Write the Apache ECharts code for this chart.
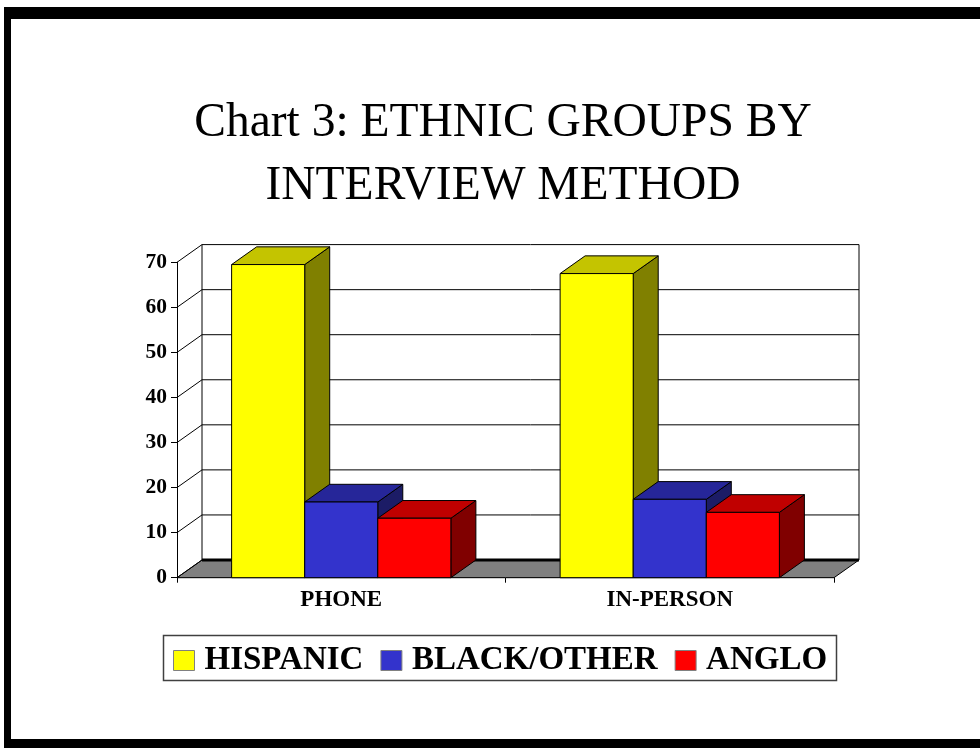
<!DOCTYPE html>
<html><head><meta charset="utf-8">
<script src="https://cdn.jsdelivr.net/npm/echarts@6/dist/echarts.min.js"></script>
<style>html,body{margin:0;padding:0;background:#fff}#c{width:980px;height:748px}</style>
</head><body><div id="c"></div><script>
// ---- data ----
const categories = ['PHONE', 'IN-PERSON'];
const hispanic = [69.5, 67.5];
const blackOther = [16.8, 17.4];
const anglo = [13.2, 14.5];
const yTicks = [0, 10, 20, 30, 40, 50, 60, 70];
const seriesNames = ['HISPANIC', 'BLACK/OTHER', 'ANGLO'];
const titleText = 'Chart 3: ETHNIC GROUPS BY\nINTERVIEW METHOD';

// ---- style ----
const FONT = '"Liberation Serif", "Times New Roman", serif';
const DX = 25, DY = -17.7;        // 3D depth offset (px)
const BAR_FRAC = 0.2225;          // bar width as fraction of band
const shades = [
  {front: '#FFFF00', top: '#C4C400', side: '#808000'},
  {front: '#3333CC', top: '#262699', side: '#1C1C66'},
  {front: '#FF0000', top: '#C00000', side: '#800000'}
];
const seriesValues = [hispanic, blackOther, anglo];

const chart = echarts.init(document.getElementById('c'), null, {renderer: 'canvas'});

function wallRender(params, api) {
  const cs = params.coordSys;
  const L = cs.x, R = cs.x + cs.width;
  const y0 = api.coord([0, yTicks[0]])[1];
  const yTop = api.coord([0, yTicks[yTicks.length - 1]])[1];
  const line = (x1, y1, x2, y2, w) => ({
    type: 'line', shape: {x1, y1, x2, y2},
    style: {stroke: '#000', lineWidth: w || 1}
  });
  const children = [];
  children.push({
    type: 'polygon',
    shape: {points: [[L, y0], [R, y0], [R + DX, y0 + DY], [L + DX, y0 + DY]]},
    style: {fill: '#808080', stroke: '#000', lineWidth: 1}
  });
  yTicks.forEach(v => {
    const y = api.coord([0, v])[1];
    children.push(line(L, y, L + DX, y + DY));
    children.push(line(L + DX, y + DY, R + DX, y + DY, v === yTicks[0] ? 3 : 1));
  });
  children.push(line(L + DX, y0 + DY, L + DX, yTop + DY));
  children.push(line(R + DX, y0 + DY, R + DX, yTop + DY));
  return {type: 'group', children};
}

function barRender(sIdx) {
  return function (params, api) {
    const ci = api.value(0), v = api.value(1);
    const c = api.coord([ci, v]);
    const b = api.coord([ci, 0]);
    const band = api.size([1, 0])[0];
    const bw = band * BAR_FRAC;
    const left = c[0] - 1.5 * bw + sIdx * bw;
    const right = left + bw;
    const yt = c[1], yb = b[1];
    const sh = shades[sIdx];
    const st = (fill) => ({fill, stroke: '#000', lineWidth: 1});
    return {
      type: 'group',
      children: [
        {type: 'polygon', shape: {points: [[right, yt], [right + DX, yt + DY], [right + DX, yb + DY], [right, yb]]}, style: st(sh.side)},
        {type: 'polygon', shape: {points: [[left, yt], [left + DX, yt + DY], [right + DX, yt + DY], [right, yt]]}, style: st(sh.top)},
        {type: 'rect', shape: {x: left, y: yt, width: bw, height: yb - yt}, style: st(sh.front)}
      ]
    };
  };
}

const series = [{
  type: 'custom', name: 'wall', silent: true, z: 1,
  renderItem: wallRender, data: [[0, 0]]
}];
seriesNames.forEach((name, s) => {
  series.push({
    type: 'custom', name, z: 2,
    itemStyle: {color: shades[s].front},
    renderItem: barRender(s),
    data: categories.map((c, i) => [i, seriesValues[s][i]])
  });
});

chart.setOption({
  animation: false,
  backgroundColor: '#fff',
  title: {
    text: titleText, left: 503, top: 92.5, padding: 0, textAlign: 'center',
    textStyle: {fontFamily: FONT, fontSize: 47.5, fontWeight: 'normal', color: '#000', lineHeight: 63}
  },
  grid: {left: 177, top: 262.3, right: 146, bottom: 170.3, containLabel: false},
  xAxis: {
    type: 'category', data: categories,
    axisLine: {show: true, lineStyle: {color: '#000', width: 1}},
    axisTick: {show: true, length: 5, lineStyle: {color: '#000'}},
    axisLabel: {margin: 11, fontFamily: FONT, fontSize: 23, fontWeight: 'bold', color: '#000'},
    splitLine: {show: false}
  },
  yAxis: {
    type: 'value', min: 0, max: 70, interval: 10,
    axisLine: {show: true, lineStyle: {color: '#000', width: 1}},
    axisTick: {show: true, length: 6, lineStyle: {color: '#000'}},
    axisLabel: {margin: 10, fontFamily: FONT, fontSize: 21.5, fontWeight: 'bold', color: '#000'},
    splitLine: {show: false}
  },
  legend: {
    data: seriesNames, left: 173, top: 644, padding: 0,
    icon: 'rect', itemWidth: 21, itemHeight: 20, itemGap: 17,
    itemStyle: {borderColor: '#808080', borderWidth: 1},
    textStyle: {fontFamily: FONT, fontSize: 33, fontWeight: 'bold', color: '#000', padding: [0, 0, 0, 5]},
    selectedMode: false
  },
  graphic: [
    {type: 'rect', z: -1, shape: {x: 4, y: 7, width: 976, height: 12}, style: {fill: '#000'}},
    {type: 'rect', z: -1, shape: {x: 4, y: 7, width: 7, height: 741}, style: {fill: '#000'}},
    {type: 'rect', z: -1, shape: {x: 4, y: 739, width: 976, height: 9}, style: {fill: '#000'}},
    {type: 'rect', z: -1, shape: {x: 163.5, y: 635.5, width: 673, height: 45}, style: {fill: '#fff', stroke: '#404040', lineWidth: 1.5}}
  ],
  series
});
</script></body></html>
